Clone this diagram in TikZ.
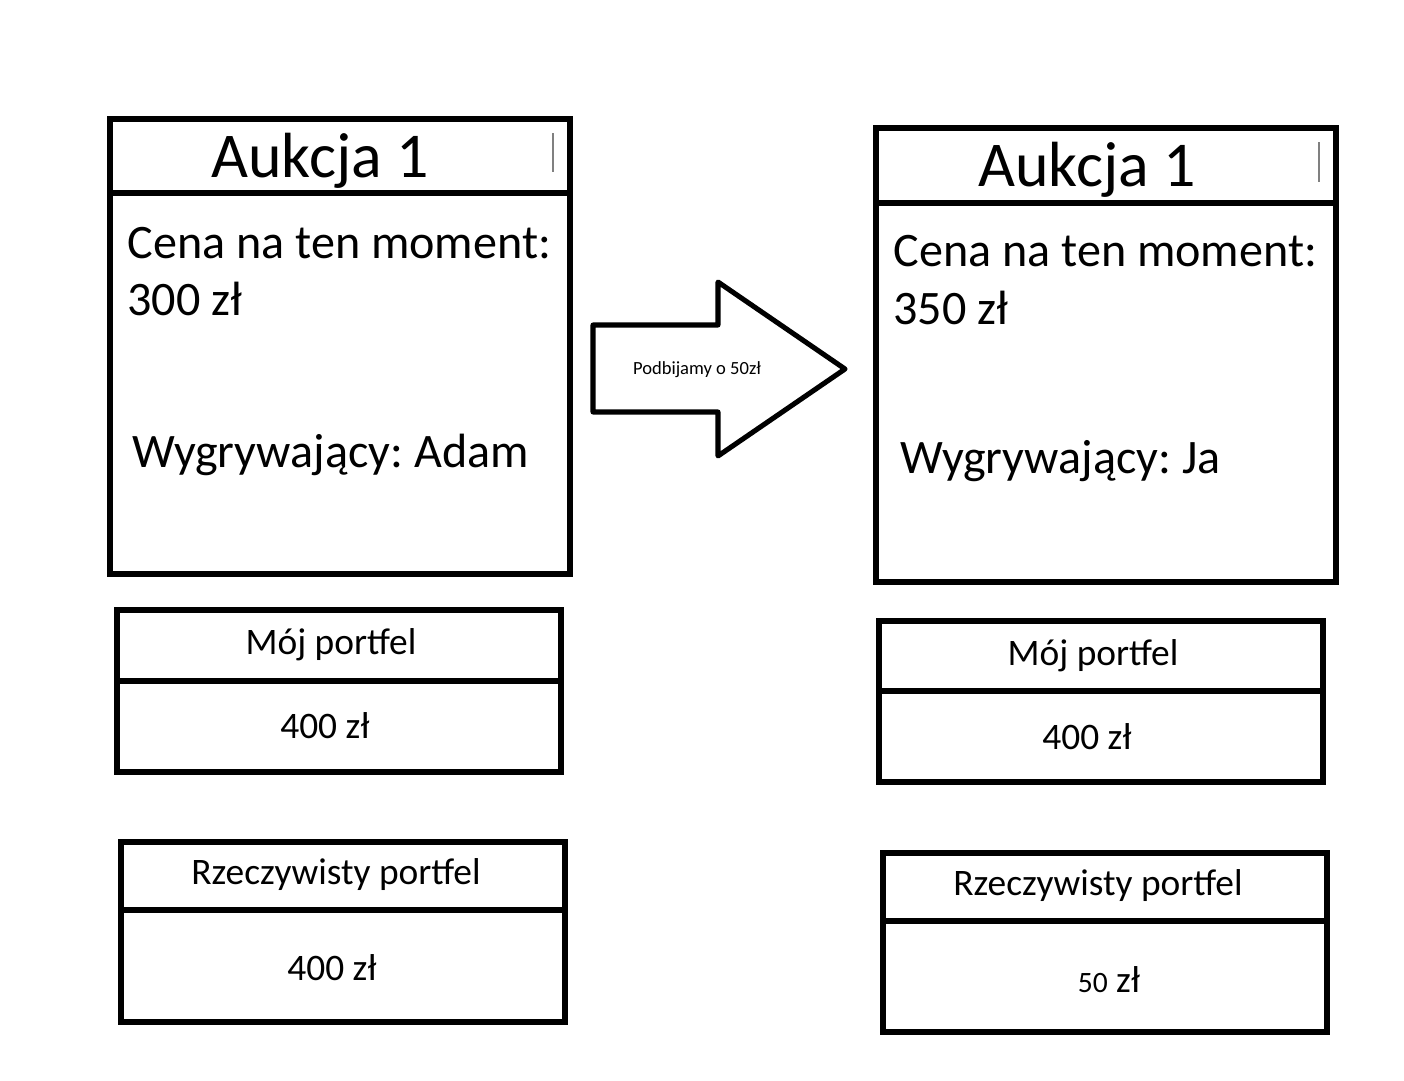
\documentclass[tikz,border=0pt]{standalone}
\usepackage{fontspec}
\setmainfont{Carlito}
\frenchspacing
\tikzset{
  frame/.style={line width=1.8pt, line join=miter},
  tick/.style={gray, line width=0.5pt},
  big/.style={font=\fontsize{22.7}{27}\selectfont, anchor=base, inner sep=0pt},
  mid/.style={font=\fontsize{17.1}{20}\selectfont, anchor=base west, inner sep=0pt},
  small/.style={font=\fontsize{13.3}{16}\selectfont},
  tiny/.style={font=\fontsize{6.6}{8}\selectfont}
}
\begin{document}
\begin{tikzpicture}[x=0.0125cm,y=-0.0125cm]
\useasboundingbox (0,0) rectangle (1404,1080);

% auction before
\draw[frame] (110,119) rectangle (570,574);
\draw[frame] (107,193) -- (570,193);
\draw[tick] (553,133) -- (553,172);
\node[big] (aukL) at (320,177) {Aukcja 1};
\node[mid] (cenaL) at (127,258) {Cena na ten moment:};
\node[mid] (kwotaL) at (127,315) {300 zł};
\node[mid] (wygL) at (132,467) {Wygrywający: Adam};

% auction after
\draw[frame] (876,128) rectangle (1336,582);
\draw[frame] (873,203) -- (1336,203);
\draw[tick] (1319,142) -- (1319,182);
\node[big] (aukR) at (1087,186) {Aukcja 1};
\node[mid] (cenaR) at (893,266) {Cena na ten moment:};
\node[mid] (kwotaR) at (893,324) {350 zł};
\node[mid] (wygR) at (900,473) {Wygrywający: Ja};

% wallets before
\draw[frame] (117,610) rectangle (561,772);
\draw[frame] (114,681) -- (561,681);
\node[small] (mojL) at (331,645) {Mój portfel};
\node[small] (mojkwL) at (325,726) {400 zł};

\draw[frame] (121,842) rectangle (565,1022);
\draw[frame] (121,910) -- (565,910);
\node[small] (rzL) at (336,875) {Rzeczywisty portfel};
\node[small] (rzkwL) at (332,968) {400 zł};

% wallets after
\draw[frame] (879,621) rectangle (1323,782);
\draw[frame] (876,691) -- (1320,691);
\node[small] (mojR) at (1093,656) {Mój portfel};
\node[small] (mojkwR) at (1087,737) {400 zł};

\draw[frame] (883,853) rectangle (1327,1032);
\draw[frame] (883,921) -- (1327,921);
\node[small] (rzR) at (1098,886) {Rzeczywisty portfel};
\node[small] (rzkwR) at (1109,980) {{\fontsize{10.5}{12}\selectfont 50} zł};

% arrow
\draw[frame, line join=round] (593,325) -- (718,325) -- (718,282) -- (845,369)
  -- (718,456) -- (718,412) -- (593,412) -- cycle;
\node[tiny] (bid) at (697,370) {Podbijamy o 50zł};
\end{tikzpicture}
\end{document}
